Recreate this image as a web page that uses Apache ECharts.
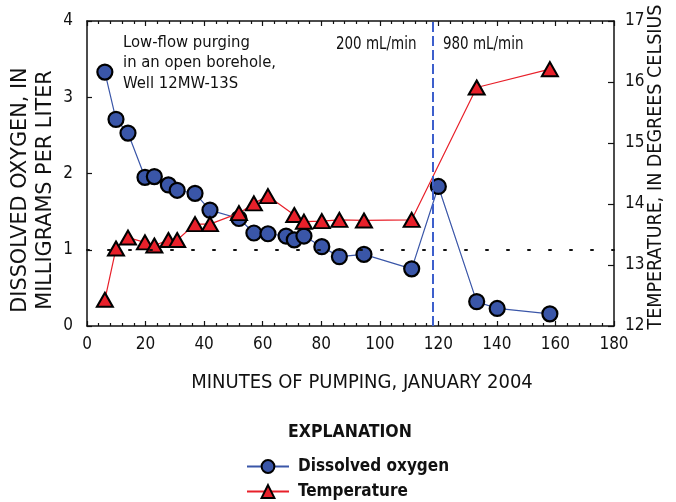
<!DOCTYPE html>
<html>
<head>
<meta charset="utf-8">
<script src="https://cdn.jsdelivr.net/npm/echarts@6/dist/echarts.min.js"></script>
<style>
html,body{margin:0;padding:0;background:#fff;}
#c{width:676px;height:502px;}
</style>
</head>
<body>
<div id="c"></div>
<script>
// Data
var doMinutes = [6.1, 9.9, 14.0, 19.8, 23.0, 27.8, 30.8, 36.9, 42.0, 51.9, 57.0, 61.8, 68.0, 70.8, 74.1, 80.2, 86.2, 94.6, 110.9, 120.0, 133.1, 140.1, 158.1];
var doValues  = [3.33, 2.71, 2.53, 1.95, 1.96, 1.85, 1.78, 1.74, 1.52, 1.41, 1.22, 1.21, 1.18, 1.13, 1.18, 1.04, 0.91, 0.94, 0.75, 1.83, 0.32, 0.23, 0.16];
var tempMinutes = [6.1, 9.9, 14.0, 19.8, 23.0, 27.8, 30.8, 36.9, 42.0, 51.9, 57.0, 61.8, 70.8, 74.1, 80.2, 86.2, 94.6, 110.9, 133.1, 158.1];
var tempValues  = [12.43, 13.27, 13.45, 13.37, 13.32, 13.41, 13.41, 13.67, 13.67, 13.85, 14.01, 14.13, 13.82, 13.71, 13.72, 13.74, 13.73, 13.74, 15.91, 16.21];
var rateChangeMinute = 118;
var doReference = 1;
var xTicks = [0, 20, 40, 60, 80, 100, 120, 140, 160, 180];
var doTicks = [0, 1, 2, 3, 4];
var tempTicks = [12, 13, 14, 15, 16, 17];

var FONT = '"Liberation Sans Narrow", "DejaVu Sans Condensed", "Roboto", sans-serif';
var BLUE = '#3a56a8';
var RED = '#e8202a';

function pairs(xs, ys){ return xs.map(function(x,i){ return [x, ys[i]]; }); }

var chart = echarts.init(document.getElementById('c'), null, {renderer:'canvas'});

var axisLbl = {color:'#111', fontFamily: FONT, fontSize: 17};
var legendText = {fontFamily:FONT, fontWeight:'bold', fontSize:17, color:'#111', padding:[0,0,0,4]};
chart.setOption({
  animation:false,
  grid:{left:87, top:21, right:62, bottom:176, containLabel:false},
  xAxis:[{
    type:'value', min:xTicks[0], max:xTicks[xTicks.length-1], interval:20, position:'bottom',
    axisLine:{show:true, onZero:false, lineStyle:{color:'#111', width:1.5}},
    axisTick:{show:true, inside:true, length:5, lineStyle:{color:'#111', width:1.2}},
    minorTick:{show:true, splitNumber:5, length:3, lineStyle:{color:'#111', width:1.2}},
    splitLine:{show:false},
    axisLabel:Object.assign({margin:10}, axisLbl)
  },{
    type:'value', min:xTicks[0], max:xTicks[xTicks.length-1], interval:20, position:'top',
    axisLine:{show:true, onZero:false, lineStyle:{color:'#111', width:1.5}},
    axisTick:{show:true, inside:true, length:5, lineStyle:{color:'#111', width:1.2}},
    minorTick:{show:true, splitNumber:5, length:3, lineStyle:{color:'#111', width:1.2}},
    splitLine:{show:false},
    axisLabel:{show:false}
  }],
  yAxis:[{
    type:'value', min:doTicks[0], max:doTicks[doTicks.length-1], interval:1, position:'left',
    axisLine:{show:true, onZero:false, lineStyle:{color:'#111', width:1.5}},
    axisTick:{show:true, inside:true, length:5, lineStyle:{color:'#111', width:1.2}},
    splitLine:{show:false},
    axisLabel:Object.assign({margin:14}, axisLbl)
  },{
    type:'value', min:tempTicks[0], max:tempTicks[tempTicks.length-1], interval:1, position:'right',
    axisLine:{show:true, onZero:false, lineStyle:{color:'#111', width:1.5}},
    axisTick:{show:true, inside:true, length:6, lineStyle:{color:'#111', width:1.2}},
    splitLine:{show:false},
    axisLabel:Object.assign({margin:11}, axisLbl)
  }],
  legend:[{
    left:246, top:458, padding:0, itemWidth:42, itemHeight:16,
    textStyle:legendText, data:['Dissolved oxygen']
  },{
    left:246, top:483, padding:0, itemWidth:42, itemHeight:16,
    textStyle:legendText, data:['Temperature']
  }],
  series:[{
    name:'Dissolved oxygen', type:'line', xAxisIndex:0, yAxisIndex:0,
    data: pairs(doMinutes, doValues),
    symbol:'circle', symbolSize:15,
    itemStyle:{color:BLUE, borderColor:'#000', borderWidth:2.2},
    lineStyle:{color:BLUE, width:1.2},
    z:3,
    markLine:{
      silent:true, symbol:['none','none'], label:{show:false},
      data:[
        {yAxis:doReference, lineStyle:{color:'#111', type:[2,19], width:2, cap:'round'}},
        {xAxis:rateChangeMinute, lineStyle:{color:'#3d5fcc', type:[10,4], width:2}}
      ]
    }
  },{
    name:'Temperature', type:'line', xAxisIndex:0, yAxisIndex:1,
    data: pairs(tempMinutes, tempValues),
    symbol:'triangle', symbolSize:[16,14],
    itemStyle:{color:RED, borderColor:'#000', borderWidth:2},
    lineStyle:{color:RED, width:1.2},
    z:4
  }],
  graphic:[
    {type:'text', left:123, top:32, style:{text:'Low-flow purging\nin an open borehole,\nWell 12MW-13S', font:'16.5px '+FONT, fill:'#111', lineHeight:20.5}},
    {type:'text', x:336, y:45, scaleX:0.88, style:{text:'200 mL/min', font:'17px '+FONT, fill:'#111', verticalAlign:'middle'}},
    {type:'text', x:443, y:45, scaleX:0.88, style:{text:'980 mL/min', font:'17px '+FONT, fill:'#111', verticalAlign:'middle'}},
    {type:'text', x:33, y:190, rotation:Math.PI/2, scaleX:1.1, style:{text:'DISSOLVED OXYGEN, IN\nMILLIGRAMS PER LITER', font:'21px '+FONT, fill:'#111', align:'center', verticalAlign:'middle', lineHeight:25}},
    {type:'text', x:656, y:167, rotation:Math.PI/2, style:{text:'TEMPERATURE, IN DEGREES CELSIUS', font:'19.5px '+FONT, fill:'#111', align:'center', verticalAlign:'middle'}},
    {type:'text', x:362, y:383, style:{text:'MINUTES OF PUMPING, JANUARY 2004', font:'20px '+FONT, fill:'#111', align:'center', verticalAlign:'middle'}},
    {type:'text', x:350, y:432, style:{text:'EXPLANATION', font:'bold 17.5px '+FONT, fill:'#111', align:'center', verticalAlign:'middle'}}
  ]
});
</script>
</body>
</html>
